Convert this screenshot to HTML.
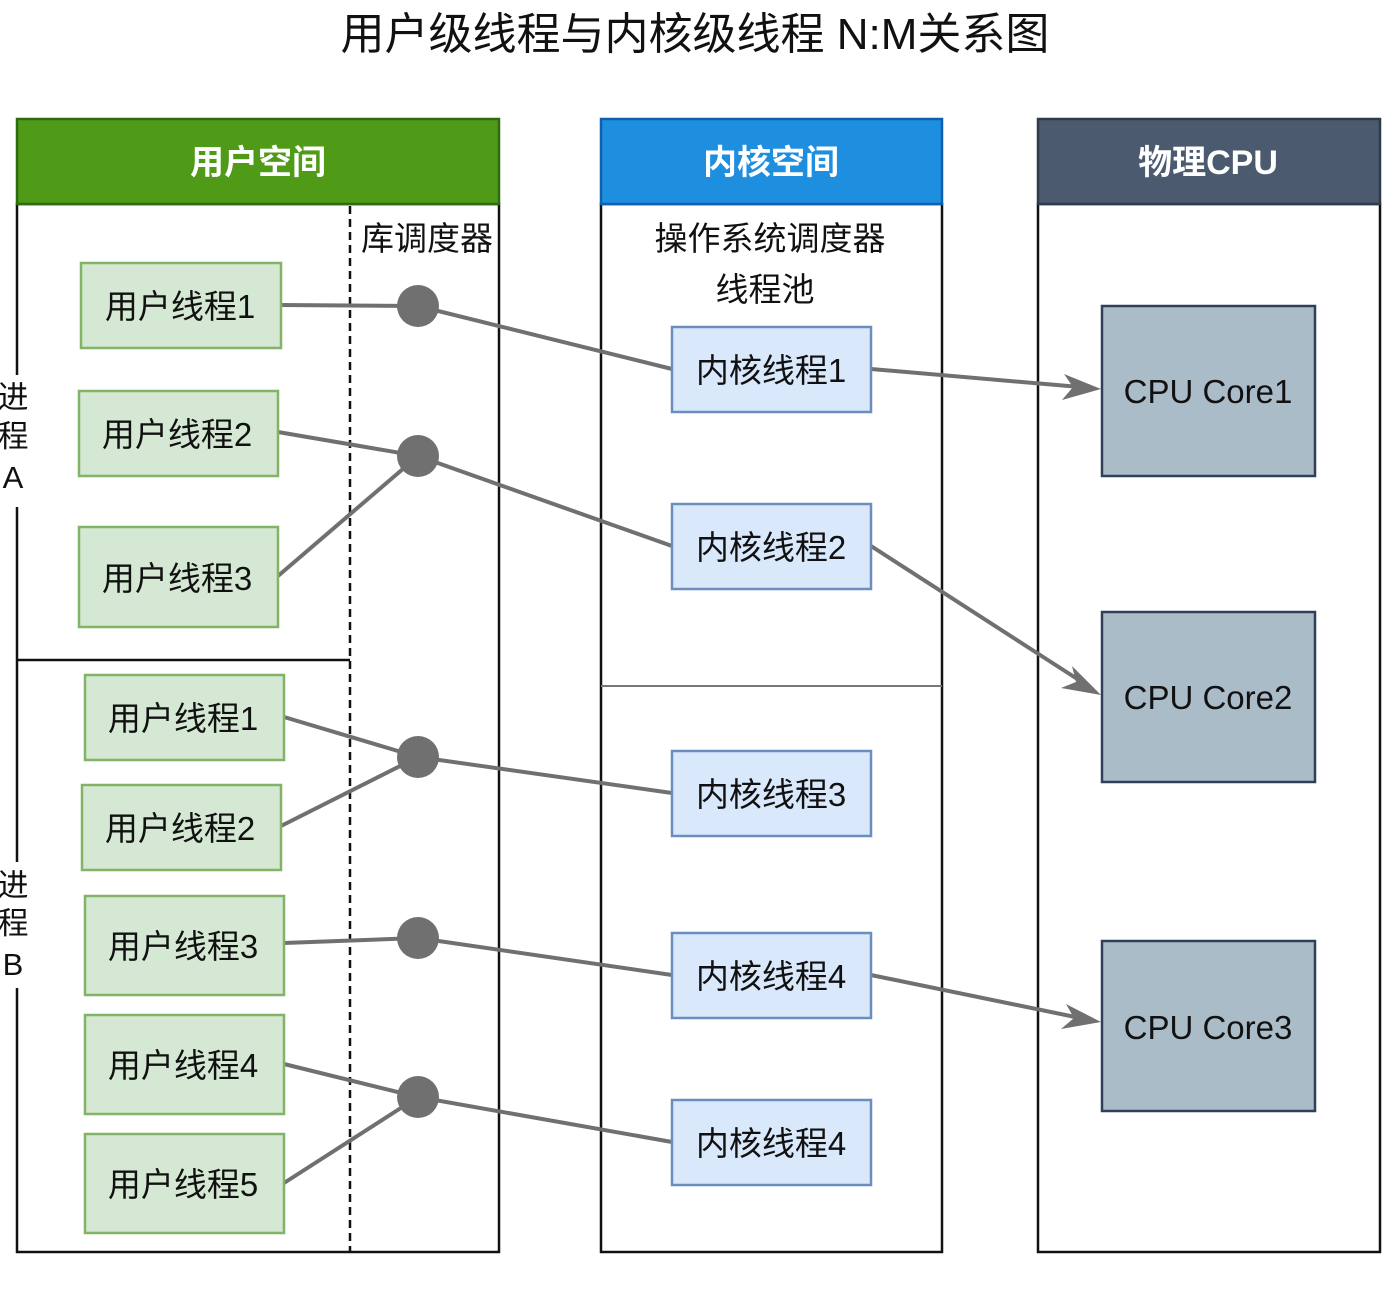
<!DOCTYPE html>
<html><head><meta charset="utf-8"><style>
html,body{margin:0;padding:0;background:#fff;}
svg{display:block;}
text{font-family:"Liberation Sans","Noto Sans CJK SC",sans-serif;}
</style></head><body>
<svg width="1398" height="1302" viewBox="0 0 1398 1302" xmlns="http://www.w3.org/2000/svg">
<text x="695" y="49" font-size="44" text-anchor="middle" fill="#111">用户级线程与内核级线程 N:M关系图</text>

<!-- User space -->
<rect x="17" y="204" width="482" height="1048" fill="#fff" stroke="#111" stroke-width="2.5"/>
<rect x="17" y="119" width="482" height="85" fill="#4F9A17" stroke="#2d6a10" stroke-width="2.5"/>
<text x="258" y="174" font-size="34" font-weight="bold" fill="#fff" text-anchor="middle">用户空间</text>
<line x1="350" y1="206" x2="350" y2="1252" stroke="#111" stroke-width="2.5" stroke-dasharray="8,5"/>
<line x1="17" y1="660" x2="350" y2="660" stroke="#111" stroke-width="2.5"/>
<text x="427" y="250" font-size="33" fill="#111" text-anchor="middle">库调度器</text>
<rect x="0" y="375" width="30" height="132" fill="#fff"/>
<text x="13" y="408" font-size="31" fill="#111" text-anchor="middle">进</text>
<text x="13" y="447" font-size="31" fill="#111" text-anchor="middle">程</text>
<text x="13" y="488" font-size="31" fill="#111" text-anchor="middle">A</text>
<rect x="0" y="862" width="30" height="126" fill="#fff"/>
<text x="13" y="896" font-size="31" fill="#111" text-anchor="middle">进</text>
<text x="13" y="934" font-size="31" fill="#111" text-anchor="middle">程</text>
<text x="13" y="975" font-size="31" fill="#111" text-anchor="middle">B</text>

<!-- Kernel -->
<rect x="601" y="204" width="341" height="1048" fill="#fff" stroke="#111" stroke-width="2.5"/>
<rect x="601" y="119" width="341" height="85" fill="#1E8EDF" stroke="#1060b0" stroke-width="2.5"/>
<text x="771" y="174" font-size="34" font-weight="bold" fill="#fff" text-anchor="middle">内核空间</text>
<line x1="601" y1="686" x2="942" y2="686" stroke="#777" stroke-width="2"/>
<text x="770" y="250" font-size="33" fill="#111" text-anchor="middle">操作系统调度器</text>
<text x="765" y="301" font-size="33" fill="#111" text-anchor="middle">线程池</text>

<!-- CPU -->
<rect x="1038" y="204" width="342" height="1048" fill="#fff" stroke="#111" stroke-width="2.5"/>
<rect x="1038" y="119" width="342" height="85" fill="#4B5A6E" stroke="#2f3b4b" stroke-width="2.5"/>
<text x="1208" y="174" font-size="34" font-weight="bold" fill="#fff" text-anchor="middle">物理CPU</text>

<g stroke="#707070" stroke-width="4" fill="none">
<line x1="281" y1="305" x2="418" y2="306"/>
<line x1="418" y1="306" x2="672" y2="369"/>
<line x1="278" y1="432" x2="418" y2="456"/>
<line x1="278" y1="576" x2="418" y2="456"/>
<line x1="418" y1="456" x2="672" y2="546"/>
<line x1="284" y1="717" x2="418" y2="757"/>
<line x1="281" y1="826" x2="418" y2="757"/>
<line x1="418" y1="757" x2="672" y2="793"/>
<line x1="284" y1="943" x2="418" y2="938"/>
<line x1="418" y1="938" x2="672" y2="975"/>
<line x1="284" y1="1064" x2="418" y2="1097"/>
<line x1="284" y1="1183" x2="418" y2="1097"/>
<line x1="418" y1="1097" x2="672" y2="1142"/>
<line x1="871" y1="369" x2="1080" y2="387"/>
<line x1="871" y1="546" x2="1082" y2="682"/>
<line x1="871" y1="975" x2="1080" y2="1018"/>
</g>
<g fill="#707070">
<polygon points="1101,389 1064,374 1073,387 1062,400"/>
<polygon points="1101,695 1072,666 1076,682 1061,688"/>
<polygon points="1101,1022 1066,1004 1074,1018 1061,1029"/>
<circle cx="418" cy="306" r="21"/>
<circle cx="418" cy="456" r="21"/>
<circle cx="418" cy="757" r="21"/>
<circle cx="418" cy="938" r="21"/>
<circle cx="418" cy="1097" r="21"/>
</g>

<g fill="#d5e8d4" stroke="#82b366" stroke-width="2.5">
<rect x="81" y="263" width="200" height="85"/>
<rect x="79" y="391" width="199" height="85"/>
<rect x="79" y="527" width="199" height="100"/>
<rect x="85" y="675" width="199" height="85"/>
<rect x="82" y="785" width="199" height="85"/>
<rect x="85" y="896" width="199" height="99"/>
<rect x="85" y="1015" width="199" height="99"/>
<rect x="85" y="1134" width="199" height="99"/>
</g>
<g font-size="33" fill="#111" text-anchor="middle">
<text x="180" y="318">用户线程1</text>
<text x="177" y="446">用户线程2</text>
<text x="177" y="590">用户线程3</text>
<text x="183" y="730">用户线程1</text>
<text x="180" y="840">用户线程2</text>
<text x="183" y="958">用户线程3</text>
<text x="183" y="1077">用户线程4</text>
<text x="183" y="1196">用户线程5</text>
</g>

<g fill="#dae8fc" stroke="#6c8ebf" stroke-width="2.5">
<rect x="672" y="327" width="199" height="85"/>
<rect x="672" y="504" width="199" height="85"/>
<rect x="672" y="751" width="199" height="85"/>
<rect x="672" y="933" width="199" height="85"/>
<rect x="672" y="1100" width="199" height="85"/>
</g>
<g font-size="33" fill="#111" text-anchor="middle">
<text x="771" y="382">内核线程1</text>
<text x="771" y="559">内核线程2</text>
<text x="771" y="806">内核线程3</text>
<text x="771" y="988">内核线程4</text>
<text x="771" y="1155">内核线程4</text>
</g>

<g fill="#abbcc9" stroke="#2f4058" stroke-width="2.5">
<rect x="1102" y="306" width="213" height="170"/>
<rect x="1102" y="612" width="213" height="170"/>
<rect x="1102" y="941" width="213" height="170"/>
</g>
<g font-size="33" fill="#111" text-anchor="middle">
<text x="1208" y="403">CPU Core1</text>
<text x="1208" y="709">CPU Core2</text>
<text x="1208" y="1039">CPU Core3</text>
</g>
</svg>
</body></html>
